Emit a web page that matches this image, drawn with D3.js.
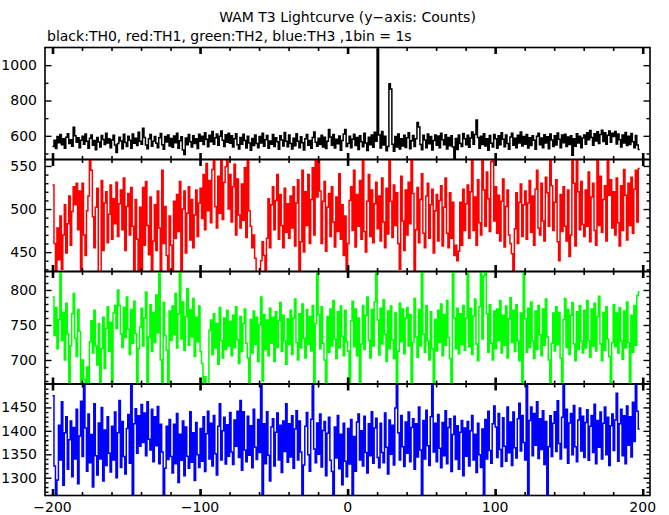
<!DOCTYPE html>
<html><head><meta charset="utf-8">
<script src="https://cdn.jsdelivr.net/npm/d3@7"></script>
<style>body{margin:0;background:#fff}svg{display:block}text{font-family:"DejaVu Sans",sans-serif;fill:#000}</style>
</head><body><svg id="c" width="669" height="515"></svg>
<script>
// time of first 1-s bin
const tStart = -200;
// TH0 (black)
const th0 = [
540,575,528,596,561,607,549,583,530,592,612,556,578,541,648,600,563,589,533,575,
598,552,611,570,529,586,604,547,573,521,590,565,537,602,579,551,615,560,584,532,
577,603,548,505,556,592,571,527,609,562,540,598,575,530,611,558,587,545,620,569,
553,643,590,548,527,584,607,541,570,596,558,532,589,613,549,524,596,565,604,543,
585,536,599,561,614,530,572,595,520,495,588,549,607,566,537,601,556,583,528,609,
570,597,551,618,580,538,603,566,624,553,589,611,547,598,627,575,540,606,563,615,
558,601,537,584,612,549,526,590,552,609,573,531,597,560,518,585,545,604,556,532,
596,560,614,541,578,602,529,571,553,608,540,589,566,524,600,576,543,619,570,538,
604,557,525,586,544,612,569,532,595,561,520,583,607,546,574,530,591,622,563,541,
587,551,603,537,592,528,569,636,594,546,608,531,580,555,599,518,573,611,636,540,
556,598,533,581,609,545,590,522,601,566,538,614,560,517,592,549,605,536,620,570,
1090,605,531,625,548,597,515,540,895,865,552,512,596,537,611,525,584,543,603,534,
589,618,527,572,602,540,583,676,650,551,521,603,576,532,610,555,596,520,574,605,
546,599,533,614,578,549,606,526,591,544,600,537,465,585,523,604,557,539,613,584,
549,603,535,588,622,553,607,689,590,530,598,551,612,543,584,519,602,558,537,607,
583,530,600,549,617,581,538,605,557,524,594,615,546,586,533,603,560,621,542,596,
552,608,531,589,545,601,575,524,597,614,549,588,533,606,559,595,527,611,577,540,
601,548,616,580,532,604,561,609,540,593,551,600,490,584,541,612,559,597,533,588,
605,553,617,578,630,590,546,612,571,623,556,608,632,568,617,552,603,627,563,614,
596,625,554,610,578,537,604,560,619,545,597,551,613,566,532,602,548,522];
// TH1 (red)
const th1 = [
528,460,420,478,441,492,430,470,505,449,483,515,458,497,526,505,530,476,521,420,
530,470,446,498,515,570,545,491,455,502,524,420,420,533,452,507,520,461,494,528,
465,512,483,531,468,506,522,476,536,452,503,518,470,525,480,420,511,465,420,502,
420,525,458,532,481,447,514,420,463,505,452,521,478,420,545,460,503,446,420,492,
458,420,509,466,517,474,532,425,500,521,449,495,526,464,511,455,493,522,468,507,
524,489,540,476,553,498,533,484,546,570,503,478,538,495,557,488,531,549,570,500,
540,485,526,552,470,535,493,478,529,487,548,467,570,498,480,455,470,443,420,420,
425,440,462,446,420,466,512,455,505,526,476,510,540,465,517,481,455,524,473,506,
466,515,478,526,457,507,534,420,462,545,450,520,481,540,460,511,548,470,570,514,
560,521,460,509,532,451,502,518,468,526,485,456,514,474,541,465,505,446,492,420,
460,510,526,475,545,456,517,480,533,465,560,474,450,509,540,468,522,461,506,531,
477,515,463,536,485,455,524,471,570,509,467,528,481,519,460,430,538,486,452,522,
470,531,483,570,518,420,476,525,461,511,541,472,455,515,530,466,505,523,449,498,
517,463,510,527,457,502,536,472,455,519,466,508,446,458,440,451,508,458,523,475,
506,528,466,520,560,475,514,458,534,484,470,570,522,480,543,512,474,555,570,486,
526,472,516,463,509,535,456,503,522,470,460,448,420,477,519,460,508,529,468,505,
521,465,507,533,473,515,458,523,545,478,470,530,486,463,537,519,480,570,527,475,
508,534,462,440,517,474,526,480,463,522,445,470,565,530,457,570,520,476,532,482,
468,522,480,543,462,514,530,475,458,560,481,538,473,511,527,463,570,516,534,478,
520,470,536,484,457,527,475,546,516,464,530,481,537,472,523,545,485,547];
// TH2 (green)
const th2 = [
790,735,775,716,758,835,728,768,700,781,737,655,720,766,795,731,705,772,741,655,
700,672,655,690,660,726,756,710,771,720,693,752,655,716,761,688,745,776,712,754,
655,767,778,745,800,778,737,718,775,732,790,744,708,772,724,784,738,655,716,747,
774,720,760,797,655,733,779,712,768,725,793,739,835,700,655,782,735,714,655,770,
728,777,736,795,717,766,835,730,783,714,762,802,721,772,733,788,705,761,726,777,
712,695,655,676,655,660,742,757,708,766,717,752,694,775,728,703,760,715,771,720,
755,706,764,718,776,729,695,762,712,752,773,724,703,655,758,710,770,722,761,698,
750,790,670,765,715,757,706,774,724,761,698,769,718,756,782,712,764,727,694,759,
722,771,708,760,787,725,700,766,717,780,731,703,772,722,762,713,778,655,752,835,
765,716,776,724,700,655,762,711,773,720,785,730,702,769,717,777,734,706,771,726,
713,655,756,784,719,773,706,760,655,723,778,715,764,790,728,703,772,720,783,835,
757,707,774,723,786,737,698,770,716,777,729,702,767,655,712,781,726,773,709,760,
775,720,765,655,725,788,733,704,772,720,835,737,711,778,727,700,769,716,655,758,
713,771,725,780,706,765,721,785,732,702,655,835,760,716,774,709,766,722,778,714,
760,835,719,774,708,763,787,723,699,776,835,730,820,835,766,711,779,724,700,770,
716,773,728,785,710,764,721,777,703,759,789,725,771,712,779,727,699,767,655,835,
759,711,774,718,783,727,702,770,715,778,736,706,773,721,787,733,700,655,724,767,
713,776,722,768,703,655,758,788,718,772,708,764,782,723,699,769,715,778,727,710,
771,717,785,728,704,773,720,781,713,762,791,723,699,768,714,776,730,705,655,725,
779,719,767,710,775,727,701,770,717,783,725,655,764,711,778,721,792,797];
// TH3 (blue)
const th3 = [
1475,1325,1252,1295,1412,1338,1462,1284,1396,1430,1318,1381,1421,1302,1407,1340,1446,1287,1389,1463,
1345,1510,1406,1314,1436,1332,1392,1280,1458,1347,1306,1417,1340,1450,1293,1402,1326,1430,1352,1312,
1410,1338,1440,1300,1396,1465,1322,1420,1345,1308,1405,1435,1331,1510,1252,1415,1447,1352,1432,1367,
1456,1375,1438,1347,1462,1382,1359,1446,1334,1430,1368,1452,1330,1414,1355,1252,1320,1410,1339,1424,
1345,1310,1414,1330,1437,1290,1393,1337,1421,1304,1408,1346,1320,1441,1333,1396,1294,1418,1349,1322,
1405,1335,1430,1313,1394,1442,1340,1416,1325,1433,1351,1306,1410,1458,1338,1400,1429,1329,1413,1346,
1439,1355,1328,1423,1367,1442,1343,1465,1316,1441,1359,1334,1431,1348,1411,1321,1446,1365,1339,1424,
1354,1510,1260,1415,1330,1441,1348,1293,1408,1426,1325,1397,1438,1338,1412,1311,1421,1356,1458,1333,
1415,1344,1432,1320,1404,1443,1338,1421,1355,1252,1327,1410,1439,1349,1314,1425,1510,1361,1332,1417,
1350,1436,1323,1401,1420,1304,1395,1429,1337,1313,1252,1408,1342,1433,1319,1393,1285,1416,1335,1302,
1405,1329,1424,1252,1388,1314,1419,1436,1338,1400,1325,1431,1354,1310,1415,1347,1441,1331,1406,1427,
1343,1321,1416,1354,1332,1438,1365,1308,1423,1350,1412,1327,1449,1510,1396,1338,1433,1366,1324,1419,
1352,1440,1334,1407,1426,1318,1415,1344,1451,1359,1252,1422,1340,1444,1368,1326,1430,1510,1355,1416,
1334,1435,1363,1321,1418,1347,1443,1330,1407,1426,1313,1392,1431,1339,1411,1318,1397,1422,1304,1406,
1346,1420,1325,1400,1433,1338,1393,1311,1416,1349,1322,1404,1252,1424,1340,1442,1358,1331,1415,1453,
1408,1343,1437,1360,1324,1428,1367,1335,1451,1353,1419,1326,1440,1364,1342,1426,1459,1357,1433,1375,
1338,1510,1252,1422,1451,1347,1437,1369,1462,1341,1426,1360,1443,1328,1420,1252,1366,1432,1345,1416,
1441,1356,1464,1373,1340,1429,1510,1364,1446,1331,1417,1437,1349,1454,1366,1334,1423,1449,1357,1431,
1343,1418,1445,1337,1410,1433,1354,1457,1330,1422,1365,1440,1340,1416,1451,1349,1429,1326,1411,1436,
1358,1423,1480,1335,1415,1446,1347,1432,1330,1453,1369,1430,1344,1461,1377,1510,1442,1404];

const seriesList = [th0, th1, th2, th3];
const seriesColors = ["#000000", "#ff0000", "#00ff00", "#0000ff"];
const yDomains = [[466, 1100], [427.5, 557.5], [665.7, 826.4], [1262, 1500]];
const yLabelTicks = [[600, 800, 1000], [450, 500, 550], [700, 750, 800], [1300, 1350, 1400, 1450]];
const yMinorStep = [100, 10, 10, 10];
const xLabelTicks = [-200, -100, 0, 100, 200];
const xMinorStep = 20;
const titleText = "WAM T3 Lightcurve (y\u2212axis: Counts)";
const subtitleText = "black:TH0, red:TH1, green:TH2, blue:TH3 ,1bin = 1s";

const svg = d3.select("#c");
const L = 45, R = 650;
const panelTops = [47.5, 159.5, 271.5, 384, 495.5];

const x = d3.scaleLinear().domain([-200, 200]).range([52.5, 642.7]);
const fmt = v => (v < 0 ? "\u2212" + Math.abs(v) : String(v));

svg.append("text").attr("x", (L + R) / 2).attr("y", 22).attr("text-anchor", "middle")
  .attr("font-size", 14).text(titleText);
svg.append("text").attr("x", 47).attr("y", 41).attr("font-size", 14).text(subtitleText);

const defs = svg.append("defs");

seriesList.forEach((vals, p) => {
  const top = panelTops[p], bot = panelTops[p + 1];
  const y = d3.scaleLinear().domain(yDomains[p]).range([bot, top]);
  const g = svg.append("g");
  defs.append("clipPath").attr("id", "clip" + p).append("rect")
    .attr("x", L).attr("y", top).attr("width", R - L).attr("height", bot - top);

  const pts = vals.map((v, i) => [tStart + i, v]);
  pts.push([tStart + vals.length, vals[vals.length - 1]]);
  const line = d3.line().x(d => x(d[0])).y(d => y(d[1])).curve(d3.curveStepAfter);
  g.append("path").attr("d", line(pts)).attr("fill", "none")
    .attr("stroke", seriesColors[p]).attr("stroke-width", 1.5)
    .attr("clip-path", `url(#clip${p})`);

  // frame
  g.append("rect").attr("x", L).attr("y", top).attr("width", R - L).attr("height", bot - top)
    .attr("fill", "none").attr("stroke", "#000").attr("stroke-width", 1.6);

  // x ticks (top & bottom, inward)
  const xMinor = d3.range(-200, 200.1, xMinorStep).filter(v => !xLabelTicks.includes(v));
  const xa = [
    [d3.axisTop(x).tickValues(xMinor).tickSize(-3.5).tickFormat(""), top, 1.6],
    [d3.axisBottom(x).tickValues(xMinor).tickSize(-3.5).tickFormat(""), bot, 1.6],
    [d3.axisTop(x).tickValues(xLabelTicks).tickSize(-6.5).tickFormat(""), top, 2.6],
    [d3.axisBottom(x).tickValues(xLabelTicks).tickSize(-6.5).tickFormat(""), bot, 2.6]
  ];
  xa.forEach(([ax, yy, w]) => {
    const a = g.append("g").attr("transform", `translate(0,${yy})`).call(ax);
    a.select(".domain").remove();
    a.selectAll("line").attr("stroke", "#000").attr("stroke-width", w);
  });

  // y ticks (left & right, inward)
  const dom = yDomains[p];
  const yMinor = d3.range(Math.ceil(dom[0] / yMinorStep[p]) * yMinorStep[p], dom[1], yMinorStep[p])
    .filter(v => !yLabelTicks[p].includes(v));
  const ya = [
    [d3.axisLeft(y).tickValues(yMinor).tickSize(-3.5).tickFormat(""), L],
    [d3.axisRight(y).tickValues(yMinor).tickSize(-3.5).tickFormat(""), R],
    [d3.axisLeft(y).tickValues(yLabelTicks[p]).tickSize(-6.5).tickFormat(""), L],
    [d3.axisRight(y).tickValues(yLabelTicks[p]).tickSize(-6.5).tickFormat(""), R]
  ];
  ya.forEach(([ax, xx]) => {
    const a = g.append("g").attr("transform", `translate(${xx},0)`).call(ax);
    a.select(".domain").remove();
    a.selectAll("line").attr("stroke", "#000").attr("stroke-width", 1.4);
  });

  // y labels
  g.selectAll("text.yl").data(yLabelTicks[p]).enter().append("text")
    .attr("x", 37).attr("y", d => y(d) + 5).attr("text-anchor", "end")
    .attr("font-size", 14).text(d => fmt(d));
});

// x labels (bottom)
svg.selectAll("text.xl").data(xLabelTicks).enter().append("text")
  .attr("x", d => x(d)).attr("y", 512).attr("text-anchor", "middle")
  .attr("font-size", 14).text(d => fmt(d));
</script></body></html>
